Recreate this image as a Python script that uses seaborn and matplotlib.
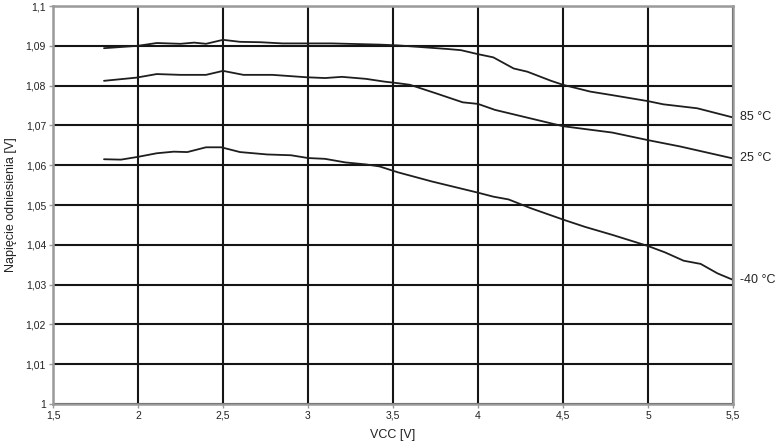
import matplotlib
matplotlib.use("Agg")
import matplotlib.pyplot as plt
import matplotlib.ticker as mticker
import pandas as pd
import seaborn as sns

# Values
vcc_85 = [1.8, 2.0, 2.11, 2.25, 2.33, 2.4, 2.5, 2.6, 2.72, 2.85, 3.14, 3.42, 3.53,
          3.82, 3.9, 4.0, 4.09, 4.21, 4.29, 4.43, 4.5, 4.66, 4.79, 5.0, 5.09, 5.29, 5.5]
ref_85 = [1.0894, 1.0900, 1.0907, 1.0905, 1.0908, 1.0905, 1.0915, 1.0910, 1.0909, 1.0906,
          1.0906, 1.0903, 1.0901, 1.0892, 1.0889, 1.0879, 1.0871, 1.0843, 1.0835, 1.0812,
          1.0802, 1.0785, 1.0776, 1.0761, 1.0753, 1.0743, 1.0720]

vcc_25 = [1.8, 1.99, 2.11, 2.25, 2.4, 2.5, 2.62, 2.79, 2.99, 3.1, 3.2, 3.34, 3.45, 3.53,
          3.6, 3.75, 3.91, 4.0, 4.1, 4.5, 4.79, 5.0, 5.19, 5.5]
ref_25 = [1.0812, 1.0820, 1.0829, 1.0827, 1.0827, 1.0837, 1.0827, 1.0827, 1.0821, 1.0819,
          1.0822, 1.0817, 1.0810, 1.0806, 1.0802, 1.0781, 1.0758, 1.0754, 1.0739, 1.0698,
          1.0682, 1.0663, 1.0647, 1.0617]

vcc_m40 = [1.8, 1.9, 2.0, 2.11, 2.21, 2.29, 2.4, 2.49, 2.6, 2.76, 2.9, 3.0, 3.1, 3.22,
           3.34, 3.42, 3.53, 3.73, 4.0, 4.09, 4.18, 4.31, 4.51, 4.63, 4.79, 5.0, 5.1,
           5.21, 5.31, 5.41, 5.5]
ref_m40 = [1.0615, 1.0614, 1.0621, 1.0630, 1.0634, 1.0633, 1.0645, 1.0645, 1.0633, 1.0627,
           1.0625, 1.0618, 1.0616, 1.0607, 1.0602, 1.0597, 1.0582, 1.0559, 1.0531, 1.0521,
           1.0514, 1.0492, 1.0462, 1.0445, 1.0425, 1.0397, 1.0381, 1.0360, 1.0352, 1.0328,
           1.0312]

series_labels = ["85 °C", "25 °C", "-40 °C"]

df = pd.concat([
    pd.DataFrame({"VCC": vcc_85, "Vref": ref_85, "T": series_labels[0]}),
    pd.DataFrame({"VCC": vcc_25, "Vref": ref_25, "T": series_labels[1]}),
    pd.DataFrame({"VCC": vcc_m40, "Vref": ref_m40, "T": series_labels[2]}),
])

sns.set_style("white")
plt.rcParams["font.family"] = ["Liberation Sans", "DejaVu Sans"]

fig = plt.figure(figsize=(7.82, 4.48), dpi=100)
ax = fig.add_axes([0.0678, 0.0982, 0.8695, 0.8884])

sns.lineplot(data=df, x="VCC", y="Vref", units="T", estimator=None, sort=False,
             color="#1e1e1e", linewidth=1.3, legend=False, ax=ax)

ax.set_xlim(1.5, 5.5)
ax.set_ylim(1.0, 1.1)
ax.xaxis.set_major_locator(mticker.MultipleLocator(0.5))
ax.yaxis.set_major_locator(mticker.MultipleLocator(0.01))

# decimal comma, as in the original
comma = mticker.FuncFormatter(lambda v, p: ("%g" % round(v, 3)).replace(".", ","))
ax.xaxis.set_major_formatter(comma)
ax.yaxis.set_major_formatter(comma)

ax.grid(True, color="#151515", linewidth=1.5)
ax.set_axisbelow(True)
for s in ax.spines.values():
    s.set_color("#9a9a9a")
    s.set_linewidth(1.8)
ax.tick_params(axis="both", direction="out", length=3, width=1, color="#9a9a9a",
               labelsize=7.5, labelcolor="#222222", pad=2, bottom=True, left=True)

ax.set_xlabel("VCC [V]", fontsize=9, color="#222222", labelpad=6)
ax.set_ylabel("Napięcie odniesienia [V]", fontsize=9, color="#222222", labelpad=6)

for xs, ys, lab in [(vcc_85, ref_85, series_labels[0]),
                    (vcc_25, ref_25, series_labels[1]),
                    (vcc_m40, ref_m40, series_labels[2])]:
    ax.text(xs[-1] + 0.04, ys[-1], lab, ha="left", va="center", fontsize=9,
            color="#222222", clip_on=False)

fig.savefig("out.png", dpi=100)
